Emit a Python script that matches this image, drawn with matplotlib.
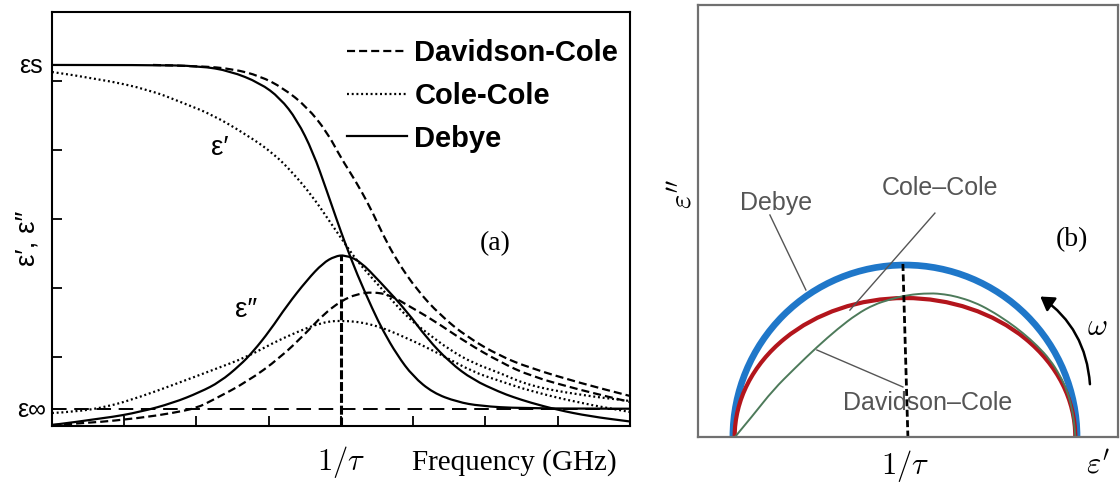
import matplotlib
matplotlib.use('Agg')
import matplotlib.pyplot as plt
from matplotlib.lines import Line2D
from matplotlib.path import Path
from matplotlib.patches import FancyArrowPatch, PathPatch, Arc

plt.rcParams['lines.scale_dashes'] = False
plt.rcParams['mathtext.fontset'] = 'cm'
plt.rcParams['font.family'] = ['Liberation Sans', 'DejaVu Sans']

# ---------- panel (a): x = log10(omega*tau), y = permittivity (arb. units) ----------
eps_inf = 0.25
eps_s = 5.23

debye_re_x = [-2.0, -1.322, -0.976, -0.768, -0.561, -0.422, -0.304, -0.194, -0.097, -0.028,
              0.028, 0.111, 0.221, 0.291, 0.388, 0.498, 0.637, 0.803, 0.962, 1.239, 2.0]
debye_re_y = [5.232, 5.232, 5.217, 5.145, 4.971, 4.754, 4.435, 3.971, 3.400, 2.980,
              2.652, 2.200, 1.680, 1.380, 1.030, 0.720, 0.480, 0.350, 0.290, 0.255, 0.250]

debye_im_x = [-2.0, -1.619, -1.391, -1.163, -0.976, -0.837, -0.699, -0.609, -0.491, -0.374,
              -0.235, -0.125, -0.042, 0.028, 0.131, 0.270, 0.457, 0.595, 0.754, 0.913,
              1.100, 1.190, 1.308, 1.495, 1.723, 2.0]
debye_im_y = [0.014, 0.116, 0.203, 0.333, 0.490, 0.640, 0.880, 1.075, 1.385, 1.745,
              2.115, 2.360, 2.460, 2.478, 2.390, 2.090, 1.660, 1.270, 0.920, 0.670,
              0.490, 0.420, 0.340, 0.235, 0.140, 0.065]

cc_re_x = [-2.0, -1.668, -1.322, -1.093, -0.886, -0.651, -0.471, -0.332, -0.194, -0.076, 0.0,
           0.111, 0.221, 0.339, 0.457, 0.595, 0.754, 0.913, 1.100, 1.308, 1.654, 2.0]
cc_re_y = [5.130, 5.029, 4.870, 4.681, 4.507, 4.217, 3.957, 3.667, 3.319, 2.957, 2.725,
           2.391, 2.130, 1.855, 1.580, 1.348, 1.101, 0.913, 0.768, 0.580, 0.449, 0.362]

cc_im_x = [-2.0, -1.855, -1.619, -1.391, -1.163, -0.886, -0.651, -0.471, -0.304, -0.145, 0.0,
           0.221, 0.457, 0.685, 0.913, 1.100, 1.308, 1.654, 2.0]
cc_im_y = [0.188, 0.203, 0.275, 0.420, 0.594, 0.812, 1.000, 1.203, 1.362, 1.493, 1.536,
           1.478, 1.275, 1.043, 0.783, 0.652, 0.507, 0.333, 0.203]

dc_re_x = [-1.301, -0.976, -0.747, -0.561, -0.401, -0.235, -0.097, 0.0, 0.097, 0.201,
           0.291, 0.388, 0.526, 0.685, 0.872, 1.100, 1.308, 1.654, 2.0]
dc_re_y = [5.232, 5.217, 5.174, 5.072, 4.899, 4.623, 4.261, 3.884, 3.565, 3.174,
           2.768, 2.391, 1.971, 1.609, 1.290, 1.014, 0.841, 0.623, 0.435]

dc_im_x = [-2.0, -1.737, -1.391, -1.163, -0.997, -0.886, -0.651, -0.422, -0.235, -0.125, 0.0,
           0.111, 0.221, 0.339, 0.457, 0.637, 0.872, 1.100, 1.308, 1.654, 2.0]
dc_im_y = [0.014, 0.043, 0.116, 0.188, 0.261, 0.377, 0.638, 0.986, 1.362, 1.609, 1.812,
           1.913, 1.942, 1.899, 1.754, 1.536, 1.203, 0.928, 0.725, 0.522, 0.348]

debye_peak = 2.478

# ---------- panel (b): Cole plot, x = eps', y = eps'' ----------
b_eps_inf = 1.0
b_eps_s = 3.0
cc_half_width = 0.99
cc_height = 0.808

dc_arc_x = [1.012, 1.12, 1.233, 1.36, 1.488, 1.61, 1.721, 1.82, 1.913, 2.012, 2.145, 2.23,
            2.302, 2.40, 2.494, 2.60, 2.686, 2.77, 2.843, 2.90, 2.942, 2.97, 2.985, 2.99]
dc_arc_y = [0.0, 0.13, 0.273, 0.40, 0.523, 0.63, 0.715, 0.77, 0.80, 0.826, 0.837, 0.83,
            0.816, 0.785, 0.738, 0.67, 0.605, 0.53, 0.45, 0.36, 0.27, 0.17, 0.07, 0.0]


def smooth(xs, ys):
    verts = [(xs[0], ys[0])]
    codes = [Path.MOVETO]
    for i in range(1, len(xs) - 1):
        verts += [(xs[i], ys[i]), ((xs[i] + xs[i + 1]) / 2, (ys[i] + ys[i + 1]) / 2)]
        codes += [Path.CURVE3, Path.CURVE3]
    verts.append((xs[-1], ys[-1]))
    codes.append(Path.LINETO)
    return Path(verts, codes)


def curve(ax, xs, ys, ls, **kw):
    p = PathPatch(smooth(xs, ys), fill=False, linestyle=ls, capstyle='butt', **kw)
    ax.add_patch(p)
    return p


fig = plt.figure(figsize=(11.2, 4.86), dpi=100)

# ---------------- (a) ----------------
ax1 = fig.add_axes([0.0464, 0.1235, 0.5161, 0.8519])
dash = (0, (5.8, 2.9))
dot = (0, (1.4, 2.0))
lw = 1.6
curve(ax1, dc_re_x, dc_re_y, dash, color='k', lw=lw)
curve(ax1, dc_im_x, dc_im_y, dash, color='k', lw=lw)
curve(ax1, cc_re_x, cc_re_y, dot, color='k', lw=lw)
curve(ax1, cc_im_x, cc_im_y, dot, color='k', lw=lw)
curve(ax1, debye_re_x, debye_re_y, '-', color='k', lw=lw)
curve(ax1, debye_im_x, debye_im_y, '-', color='k', lw=lw)

ax1.axhline(eps_inf, color='k', lw=1.4, dashes=(10.5, 5.5))
ax1.plot([0, 0], [0, debye_peak], color='k', lw=2.2, dashes=(6.5, 2.0))

ax1.set_xlim(-2, 2)
ax1.set_ylim(0, 6)
ax1.set_xticks([-1.5, -1.0, -0.5, 0.0, 0.5, 1.0, 1.5])
ax1.set_yticks([1, 2, 3, 4, 5])
ax1.tick_params(direction='in', length=7, width=1.3, labelbottom=False, labelleft=False)
for sp in ax1.spines.values():
    sp.set_linewidth(1.5)

handles = [Line2D([], [], color='k', lw=lw, dashes=(5.8, 2.9)),
           Line2D([], [], color='k', lw=lw, dashes=(1.4, 2.0)),
           Line2D([], [], color='k', lw=lw)]
ax1.legend(handles, ['Davidson-Cole', 'Cole-Cole', 'Debye'],
           loc='upper right', bbox_to_anchor=(1.0, 0.962), frameon=False,
           prop={'family': 'Liberation Sans', 'weight': 'bold', 'size': 21},
           handlelength=2.05, handletextpad=0.25, labelspacing=0.5, borderaxespad=0)

ax1.text(-0.837, 4.03, 'ε′', fontsize=20, ha='center', va='center')
ax1.text(-0.657, 1.68, 'ε″', fontsize=20, ha='center', va='center')
ax1.text(1.066, 2.65, '(a)', fontsize=20, family='Liberation Serif', ha='center', va='center')

fig.text(0.028, 0.864, 'εs', fontsize=18, ha='center', va='center')
fig.text(0.028, 0.156, 'ε∞', fontsize=18, ha='center', va='center')
fig.text(0.025, 0.51, 'ε′, ε″', fontsize=20, rotation=90, ha='center', va='center')
fig.text(0.3045, 0.049, r'$1/\tau$', fontsize=22, ha='center', va='center')
fig.text(0.459, 0.049, 'Frequency (GHz)', fontsize=21, family='Liberation Serif',
         ha='center', va='center')

# ---------------- (b) ----------------
ax2 = fig.add_axes([0.6232, 0.1008, 0.3750, 0.8889])
center = (b_eps_inf + b_eps_s) / 2
radius = (b_eps_s - b_eps_inf) / 2
ax2.add_patch(Arc((center, 0), 2 * radius, 2 * radius, theta1=0, theta2=180,
                  color='#1f77c9', lw=4.8))
ax2.add_patch(Arc((center, 0), 2 * cc_half_width, 2 * cc_height, theta1=0, theta2=180,
                  color='#b3151c', lw=3.0))
curve(ax2, dc_arc_x, dc_arc_y, '-', color='#4d7a5a', lw=1.4)
ax2.plot([1.988, 2.017], [1.006, 0.0], color='k', lw=2.0, dashes=(5.0, 2.5))

gray = '#555555'
ax2.plot([1.215, 1.424], [1.291, 0.855], color=gray, lw=1.0)
ax2.plot([2.174, 1.680], [1.302, 0.738], color=gray, lw=1.0)
ax2.plot([1.488, 1.988], [0.506, 0.291], color=gray, lw=1.0)
ax2.text(1.25, 1.36, 'Debye', fontsize=18, color=gray, ha='center', va='center')
ax2.text(2.203, 1.448, 'Cole–Cole', fontsize=18, color=gray, ha='center', va='center')
ax2.text(2.134, 0.198, 'Davidson–Cole', fontsize=18, color=gray, ha='center', va='center')
ax2.text(2.971, 1.145, '(b)', fontsize=20, family='Liberation Serif', ha='center', va='center')
ax2.text(3.116, 0.64, r'$\omega$', fontsize=22, ha='center', va='center')

arrow = FancyArrowPatch((3.076, 0.291), (2.773, 0.826), connectionstyle='arc3,rad=0.25',
                        arrowstyle='-|>,head_length=8,head_width=5', color='k', lw=1.8)
ax2.add_patch(arrow)

ax2.set_xlim(0.797, 3.238)
ax2.set_ylim(0, 2.512)
ax2.set_xticks([])
ax2.set_yticks([])
for sp in ax2.spines.values():
    sp.set_linewidth(1.6)
    sp.set_color('#707070')

fig.text(0.808, 0.041, r'$1/\tau$', fontsize=22, ha='center', va='center')
fig.text(0.980, 0.043, r'$\varepsilon^{\prime}$', fontsize=22, ha='center', va='center')
fig.text(0.610, 0.60, r'$\varepsilon^{\prime\prime}$', fontsize=22, rotation=90,
         ha='center', va='center')

fig.savefig('out.png', dpi=100)
